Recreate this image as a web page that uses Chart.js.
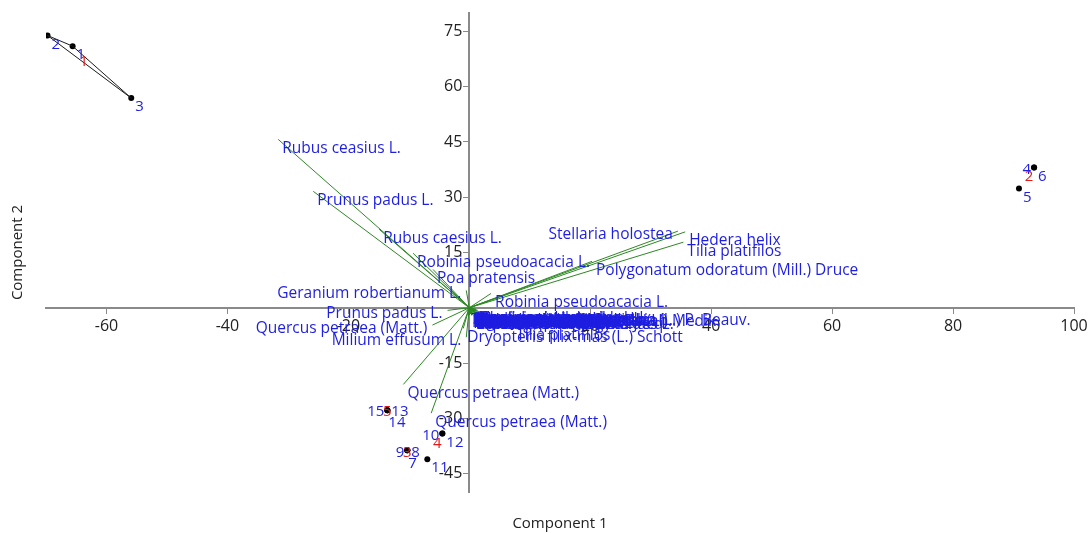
<!DOCTYPE html>
<html>
<head>
<meta charset="utf-8">
<script src="https://cdn.jsdelivr.net/npm/chart.js@4.4.0/dist/chart.umd.min.js"></script>
<style>
  html, body { margin: 0; padding: 0; background: #fff; }
  #wrap { width: 1088px; height: 533px; position: relative; }
</style>
</head>
<body>
<div id="wrap"><canvas id="c" width="1088" height="533"></canvas></div>
<script>
// PCA scores of the 15 relevés (Component 1, Component 2)
const sampleIds = ['1', '2', '3', '4', '5', '6', '7', '8', '9', '10', '11', '12', '13', '14', '15'];
const scoreX = [-65.6, -69.75, -55.9, 93.4, 90.9, 93.4, -10.25, -10.25, -10.25, -4.46, -6.94, -4.46, -13.55, -13.55, -13.55];
const scoreY = [71.0, 73.9, 56.9, 38.1, 32.4, 38.1, -38.7, -38.7, -38.7, -34.1, -41.1, -34.1, -27.8, -27.8, -27.8];
const sampleGroup = [1, 1, 1, 2, 2, 2, 3, 3, 3, 4, 4, 4, 5, 5, 5];
const groupIds = [1, 2, 3, 4, 5];

// Species loadings (biplot vectors)
const speciesNames = [
  'Rubus ceasius L.', 'Prunus padus L.', 'Rubus caesius L.', 'Robinia pseudoacacia L.', 'Poa pratensis',
  'Geranium robertianum L.', 'Prunus padus L.', 'Quercus petraea (Matt.)', 'Milium effusum L.',
  'Quercus petraea (Matt.)', 'Quercus petraea (Matt.)', 'Stellaria holostea', 'Hedera helix',
  'Tilia platifilos', 'Polygonatum odoratum (Mill.) Druce', 'Robinia pseudoacacia L.',
  'Dryopteris filix-mas (L.) Schott', 'Tilia platifilos',
  'Tilia cordata Mill.', 'Carpinus betulus L.', 'Acer campestre L.', 'Fraxinus excelsior L.',
  'Cornus sanguinea L.', 'Crataegus monogyna Jacq.', 'Euonymus europaeus L.', 'Corylus avellana L.',
  'Sambucus nigra L.', 'Urtica dioica L.', 'Galium aparine L.', 'Geum urbanum L.',
  'Glechoma hederacea L.', 'Chelidonium majus L.', 'Viola odorata L.', 'Anemone ranunculoides L.',
  'Ficaria verna Huds.', 'Asarum europaeum L.', 'Pulmonaria officinalis L.', 'Carex pilosa Scop.',
  'Capsella bursa-pastoris (L.) Medik.', 'Lathyrus vernus (L.) Bernh.',
  'Brachypodium pinnatum (L.) P. Beauv.', 'Aegopodium podagraria L.', 'Lamium maculatum L.',
  'Tilia tomentosa Moench', 'Acer tataricum L.', 'Ligustrum vulgare L.', 'Veronica chamaedrys L.',
  'Lapsana communis L.', 'Scrophularia nodosa L.', 'Ulmus minor Mill.'
];
const loadX = [
  -31.6, -25.8, -14.9, -9.3, -6.0,
  -0.5, -3.6, -6.1, -0.5,
  -10.9, -6.3, 34.5, 35.7,
  35.4, 20.3, 3.6,
  -1.0, 7.1,
  0.1, 0.3, 0.6, -0.2,
  1.0, 0.4, 1.3, 0.8,
  -0.1, 1.5, 0.2, 0.9,
  0.5, 1.1, 0.7, 1.2,
  0.0, 1.4, 0.6, 1.0,
  0.1, 0.9,
  0.3, 1.3, 0.5,
  -0.3, 0.8, 0.2, 1.1,
  0.4, 0.7, -0.1
];
const loadY = [
  45.7, 31.6, 21.3, 14.8, 10.4,
  4.7, -0.7, -4.7, -8.0,
  -20.8, -28.6, 20.8, 20.6,
  17.8, 12.6, 3.9,
  -5.6, -5.0,
  -1.2, -0.6, -1.9, -1.5,
  -0.9, -2.0, -1.4, -0.5,
  -0.8, -1.8, -1.7, -1.1,
  -0.7, -0.4, -1.6, -2.0,
  -1.9, -0.7, -1.0, -1.5,
  -1.4, -1.2,
  -1.1, -1.0, -1.8,
  -0.9, -1.3, -1.6, -0.6,
  -2.1, -1.0, -1.4
];

// Axis ticks and titles
const xTickValues = [-60, -40, -20, 20, 40, 60, 80, 100];
const yTickValues = [-45, -30, -15, 15, 30, 45, 60, 75];
const xTitle = 'Component 1';
const yTitle = 'Component 2';

// ---- presentation ----
const BLUE = 'rgb(30,30,225)';
const RED = 'rgb(230,25,25)';
const GREEN = 'rgb(45,135,35)';
const AXIS = '#8a8a8a';
const TICK_TEXT = '#222';
const FAMILY = '"Open Sans", "Noto Sans", sans-serif';
const LABEL_FONT = '15.5px ' + FAMILY;

// label placement: 'se' below-right (default), 'w' left, 'e' right, 's' below
const sampleLabelSide = { '4': 'w', '9': 'w', '8': 'e', '7': 's', '10': 'w', '15': 'w', '13': 'e', '14': 's' };
// species labels drawn to the left of their vector tip
const speciesLeftIdx = [5, 6, 7, 8, 11];

function convexHull(pts) {
  const p = pts.slice().sort((a, b) => a.x - b.x || a.y - b.y);
  const cross = (o, a, b) => (a.x - o.x) * (b.y - o.y) - (a.y - o.y) * (b.x - o.x);
  const lower = [], upper = [];
  for (const q of p) { while (lower.length >= 2 && cross(lower[lower.length - 2], lower[lower.length - 1], q) <= 0) lower.pop(); lower.push(q); }
  for (let i = p.length - 1; i >= 0; i--) { const q = p[i]; while (upper.length >= 2 && cross(upper[upper.length - 2], upper[upper.length - 1], q) <= 0) upper.pop(); upper.push(q); }
  upper.pop(); lower.pop();
  return lower.concat(upper);
}

const datasets = [];

// convex hulls around each group (only where the members span an area)
groupIds.forEach(g => {
  const pts = [];
  scoreX.forEach((x, i) => { if (sampleGroup[i] === g) pts.push({ x, y: scoreY[i] }); });
  const hull = convexHull(pts);
  if (hull.length >= 3) {
    datasets.push({ data: hull.concat([hull[0]]), showLine: true, borderColor: '#1a1a1a', borderWidth: 1, pointRadius: 0, tension: 0 });
  }
});

// species vectors from the origin
speciesNames.forEach((n, i) => {
  datasets.push({ data: [{ x: 0, y: 0 }, { x: loadX[i], y: loadY[i] }], showLine: true, borderColor: GREEN, borderWidth: 1, pointRadius: 0 });
});

// relevé scores
datasets.push({
  data: scoreX.map((x, i) => ({ x, y: scoreY[i] })),
  showLine: false, pointRadius: 3, pointBackgroundColor: '#000', pointBorderWidth: 0
});

const labelPlugin = {
  id: 'biplotLabels',
  afterDatasetsDraw(chart) {
    const { ctx } = chart;
    const sx = chart.scales.x, sy = chart.scales.y;
    ctx.save();

    // Component 2 tick labels, left of the vertical axis
    ctx.font = '16px ' + FAMILY;
    ctx.fillStyle = TICK_TEXT;
    ctx.textAlign = 'right';
    ctx.textBaseline = 'middle';
    const axisX = sx.getPixelForValue(0);
    yTickValues.forEach(v => ctx.fillText(String(v), axisX - 7, sy.getPixelForValue(v)));

    ctx.font = LABEL_FONT;

    // species names at the vector tips
    ctx.fillStyle = BLUE;
    speciesNames.forEach((n, i) => {
      const px = sx.getPixelForValue(loadX[i]), py = sy.getPixelForValue(loadY[i]);
      if (speciesLeftIdx.includes(i)) { ctx.textAlign = 'right'; ctx.fillText(n, px - 5, py + 3); }
      else { ctx.textAlign = 'left'; ctx.fillText(n, px + 4, py + 9); }
    });

    // relevé numbers
    ctx.font = '15px ' + FAMILY;
    sampleIds.forEach((id, i) => {
      const px = sx.getPixelForValue(scoreX[i]), py = sy.getPixelForValue(scoreY[i]);
      const side = sampleLabelSide[id] || 'se';
      if (side === 'w') { ctx.textAlign = 'right'; ctx.fillText(id, px - 3, py + 2); }
      else if (side === 'e') { ctx.textAlign = 'left'; ctx.fillText(id, px + 4, py + 2); }
      else if (side === 's') { ctx.textAlign = 'left'; ctx.fillText(id, px + 1, py + 13); }
      else { ctx.textAlign = 'left'; ctx.fillText(id, px + 4, py + 9); }
    });

    // group numbers at the group centroids
    ctx.fillStyle = RED;
    ctx.textAlign = 'center';
    groupIds.forEach(g => {
      let cx = 0, cy = 0, k = 0;
      scoreX.forEach((x, i) => { if (sampleGroup[i] === g) { cx += x; cy += scoreY[i]; k++; } });
      ctx.fillText(String(g), sx.getPixelForValue(cx / k), sy.getPixelForValue(cy / k) + 2);
    });

    // axis titles
    const area = chart.chartArea;
    ctx.fillStyle = TICK_TEXT;
    ctx.font = '15px ' + FAMILY;
    ctx.textAlign = 'center';
    ctx.fillText(xTitle, (area.left + area.right) / 2, area.bottom + 32);
    ctx.translate(18, (area.top + area.bottom) / 2);
    ctx.rotate(-Math.PI / 2);
    ctx.fillText(yTitle, 0, 0);
    ctx.restore();
  }
};

const tickFont = { family: FAMILY, size: 16 };

// axes cross at the origin and take no layout space of their own
function flatAxis(s) {
  if (s.isHorizontal()) s.height = 0; else s.width = 0;
  s.paddingTop = s.paddingBottom = s.paddingLeft = s.paddingRight = 0;
}

new Chart(document.getElementById('c'), {
  type: 'scatter',
  data: { datasets },
  options: {
    responsive: false,
    animation: false,
    devicePixelRatio: 1,
    layout: { padding: { left: 46, right: 14, top: 13, bottom: 41 } },
    plugins: { legend: { display: false }, tooltip: { enabled: false } },
    scales: {
      x: {
        type: 'linear', min: -70, max: 100, position: { y: 0 },
        afterFit: flatAxis,
        afterBuildTicks(s) { s.ticks = xTickValues.map(v => ({ value: v })); },
        grid: { drawOnChartArea: false, color: AXIS, tickLength: 5 },
        border: { color: AXIS, width: 2 },
        ticks: { color: TICK_TEXT, font: tickFont, padding: 4, autoSkip: false, maxRotation: 0 }
      },
      y: {
        type: 'linear', min: -50, max: 80, position: { x: 0 },
        afterFit: flatAxis,
        afterBuildTicks(s) { s.ticks = yTickValues.map(v => ({ value: v })); },
        grid: { drawOnChartArea: false, color: AXIS, tickLength: 5 },
        border: { color: AXIS, width: 2 },
        ticks: { display: false }
      }
    }
  },
  plugins: [labelPlugin]
});
</script>
</body>
</html>
